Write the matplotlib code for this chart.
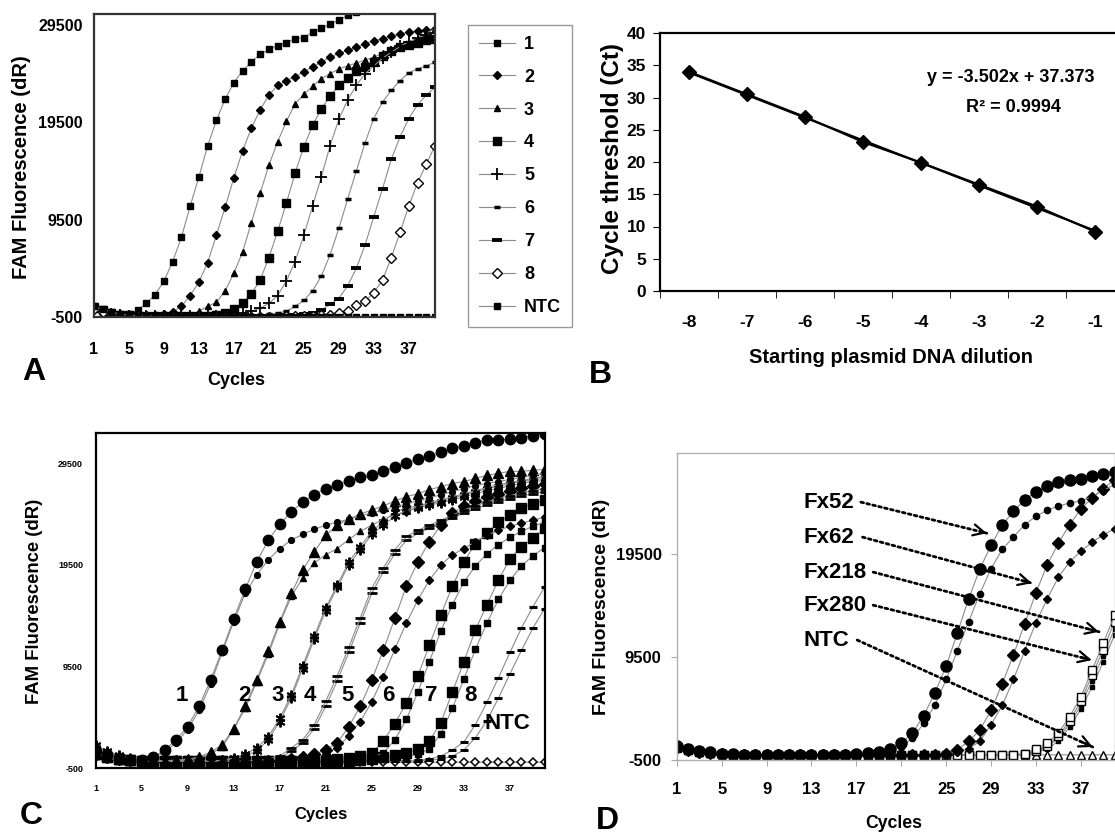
import numpy as np
import matplotlib
matplotlib.use("Agg")
import matplotlib.pyplot as plt

plt.rcParams['font.family'] = ['Liberation Sans', 'DejaVu Sans']
plt.rcParams['font.weight'] = 'bold'
plt.rcParams['axes.unicode_minus'] = False

W, H = 1115, 836
NARROW = ['Liberation Sans Narrow', 'Liberation Sans', 'DejaVu Sans']

cycles = np.arange(1, 41)

# ---- panel A: plasmid dilutions, dR in thousands ----
a_names = ['1', '2', '3', '4', '5', '6', '7', '8', 'NTC']
a_1 = [0.5, 0.2, -0.1, -0.2, -0.2, 0.2, 0.9, 1.8, 3.2, 5.2, 7.7, 10.9, 13.9, 17.1, 19.7, 21.9, 23.6, 24.8, 25.7, 26.5,
       27.0, 27.4, 27.7, 28.1, 28.2, 28.8, 29.2, 29.6, 30.0, 30.5, 30.8, 31.1, 31.4, 31.7, 32.0, 32.3, 32.6, 32.9, 33.2, 33.5]
a_2 = [0.4, 0.1, -0.2, -0.3, -0.3, -0.3, -0.3, -0.3, -0.2, 0.0, 0.6, 1.7, 3.1, 5.1, 7.9, 10.8, 13.8, 16.6, 18.9, 20.8,
       22.3, 23.3, 23.8, 24.2, 24.7, 25.2, 25.7, 26.2, 26.6, 26.9, 27.2, 27.6, 27.9, 28.1, 28.4, 28.6, 28.8, 28.9, 29.0, 29.1]
a_3 = [0.3, 0.0, -0.2, -0.3, -0.3, -0.3, -0.35, -0.35, -0.35, -0.35, -0.3, -0.3, 0.1, 0.6, 1.0, 2.2, 4.0, 6.2, 9.2, 12.2,
       15.1, 17.5, 19.6, 21.4, 22.4, 23.2, 24.0, 24.5, 25.0, 25.3, 25.6, 25.9, 26.2, 26.6, 26.9, 27.3, 27.7, 28.1, 28.7, 29.1]
a_4 = [0.5, 0.2, -0.1, -0.3, -0.3, -0.35, -0.35, -0.4, -0.4, -0.4, -0.4, -0.4, -0.4, -0.35, -0.3, -0.1, 0.3, 0.9, 1.9, 3.3,
       5.6, 8.3, 11.2, 14.3, 17.0, 19.2, 20.9, 22.2, 23.3, 24.1, 24.8, 25.2, 25.7, 26.3, 26.8, 27.2, 27.5, 27.7, 28.0, 28.1]
a_5 = [0.2, 0.0, -0.2, -0.3, -0.35, -0.35, -0.4, -0.4, -0.4, -0.4, -0.4, -0.4, -0.4, -0.4, -0.35, -0.3, -0.2, -0.1, 0.1, 0.4,
       0.9, 1.7, 3.2, 5.2, 7.9, 10.9, 13.9, 17.1, 19.8, 21.8, 23.3, 24.5, 25.3, 26.1, 26.7, 27.3, 27.8, 28.2, 28.5, 28.7]
a_6 = [0.3, 0.0, -0.2, -0.3, -0.35, -0.4, -0.4, -0.4, -0.4, -0.45, -0.45, -0.45, -0.45, -0.45, -0.45, -0.45, -0.4, -0.4, -0.35, -0.3,
       -0.2, -0.1, 0.1, 0.6, 1.2, 2.2, 3.7, 5.9, 8.6, 11.6, 14.5, 17.4, 19.9, 21.6, 22.8, 23.8, 24.6, 25.0, 25.3, 25.7]
a_7 = [0.4, 0.1, -0.1, -0.25, -0.3, -0.35, -0.4, -0.4, -0.45, -0.45, -0.45, -0.45, -0.45, -0.45, -0.45, -0.45, -0.45, -0.45, -0.4, -0.4,
       -0.4, -0.35, -0.3, -0.3, -0.2, -0.1, 0.2, 0.8, 1.4, 2.7, 4.5, 6.9, 9.8, 12.7, 15.7, 18.0, 19.9, 21.3, 22.3, 23.1]
a_8 = [0.3, 0.0, -0.2, -0.3, -0.35, -0.4, -0.4, -0.45, -0.45, -0.45, -0.45, -0.45, -0.45, -0.45, -0.45, -0.45, -0.45, -0.45, -0.45, -0.45,
       -0.45, -0.45, -0.4, -0.4, -0.4, -0.35, -0.3, -0.25, -0.1, 0.15, 0.7, 1.1, 2.0, 3.3, 5.6, 8.2, 10.9, 13.3, 15.2, 17.1]
a_ntc = [0.6, 0.3, 0.0, -0.2, -0.3, -0.35, -0.4, -0.4, -0.45, -0.45, -0.45, -0.45, -0.45, -0.45, -0.45, -0.45, -0.45, -0.45, -0.45, -0.45,
         -0.45, -0.45, -0.45, -0.45, -0.45, -0.45, -0.45, -0.45, -0.45, -0.45, -0.45, -0.45, -0.45, -0.45, -0.45, -0.45, -0.45, -0.45, -0.45, -0.45]

# ---- panel B: standard curve ----
dilution = [-8, -7, -6, -5, -4, -3, -2, -1]
ct_values = [34.0, 30.5, 27.0, 23.1, 19.9, 16.5, 13.1, 9.2]
trend_slope = -3.502
trend_intercept = 37.373
trend_r2 = 0.9994

# ---- panel C: duplicate dilutions, dR in thousands ----
c_1a = [1.2, 0.8, 0.5, 0.3, 0.3, 0.6, 1.3, 2.3, 3.6, 5.6, 8.2, 11.1, 14.2, 17.1, 19.8, 21.9, 23.5, 24.7, 25.7, 26.4,
        27.0, 27.4, 27.75, 28.1, 28.3, 28.7, 29.1, 29.5, 29.9, 30.2, 30.6, 31.0, 31.2, 31.5, 31.8, 31.8, 31.85, 32.0, 32.2, 32.35]
c_1b = [1.0, 0.7, 0.4, 0.3, 0.25, 0.5, 1.1, 2.0, 3.3, 5.2, 7.8, 10.9, 13.9, 16.7, 18.5, 20.0, 21.1, 21.95, 22.5, 23.0,
        23.4, 23.7, 24.0, 24.3, 24.6, 24.9, 25.2, 25.5, 25.8, 26.1, 26.4, 26.7, 27.0, 27.3, 27.5, 27.7, 27.9, 28.1, 28.3, 28.5]
c_2a = [1.1, 0.7, 0.4, 0.3, 0.25, 0.25, 0.25, 0.3, 0.4, 0.6, 1.1, 1.8, 3.4, 5.6, 8.2, 11.0, 13.9, 16.7, 19.0, 20.8,
        22.4, 23.4, 24.0, 24.5, 24.9, 25.3, 25.8, 26.2, 26.5, 26.9, 27.2, 27.5, 27.7, 28.0, 28.3, 28.5, 28.7, 28.7, 28.8, 28.9]
c_2b = [0.9, 0.6, 0.3, 0.25, 0.2, 0.2, 0.2, 0.25, 0.3, 0.5, 0.9, 1.6, 3.3, 5.4, 8.0, 10.7, 13.7, 16.4, 18.2, 19.7,
        20.5, 21.1, 22.0, 22.8, 23.4, 24.0, 24.4, 24.8, 25.2, 25.6, 25.9, 26.2, 26.5, 26.8, 27.1, 27.4, 27.6, 27.8, 28.0, 28.2]
c_3a = [1.8, 1.2, 0.8, 0.5, 0.3, 0.25, 0.2, 0.2, 0.2, 0.2, 0.2, 0.3, 0.5, 0.9, 1.5, 2.6, 4.4, 6.7, 9.6, 12.5,
        15.3, 17.5, 19.8, 21.3, 22.8, 23.75, 24.7, 25.1, 25.3, 25.6, 25.7, 26.05, 26.4, 26.7, 27.0, 27.2, 27.5, 27.7, 27.85, 28.0]
c_3b = [1.5, 1.0, 0.7, 0.4, 0.3, 0.2, 0.2, 0.2, 0.2, 0.2, 0.2, 0.25, 0.4, 0.7, 1.2, 2.3, 4.1, 6.4, 9.3, 12.2,
        15.0, 17.3, 19.5, 21.0, 22.5, 23.4, 24.3, 24.8, 25.1, 25.4, 25.6, 25.9, 26.2, 26.5, 26.8, 27.0, 27.3, 27.5, 27.7, 27.8]
c_4a = [1.0, 0.6, 0.4, 0.3, 0.2, 0.2, 0.2, 0.2, 0.2, 0.2, 0.2, 0.2, 0.2, 0.25, 0.3, 0.4, 0.7, 1.5, 2.3, 3.8,
        6.1, 8.6, 11.4, 14.3, 17.2, 19.2, 21.0, 22.3, 22.9, 23.4, 23.9, 24.4, 24.9, 25.3, 25.7, 26.0, 26.3, 26.6, 26.8, 27.0]
c_4b = [0.8, 0.5, 0.3, 0.2, 0.2, 0.2, 0.2, 0.2, 0.2, 0.2, 0.2, 0.2, 0.2, 0.2, 0.25, 0.3, 0.5, 1.2, 2.0, 3.4,
        5.6, 8.1, 10.9, 13.8, 16.7, 18.8, 20.6, 21.9, 22.6, 23.1, 23.6, 24.1, 24.6, 25.0, 25.4, 25.7, 26.0, 26.3, 26.5, 26.7]
c_5a = [1.0, 0.6, 0.4, 0.3, 0.25, 0.2, 0.2, 0.2, 0.2, 0.2, 0.2, 0.2, 0.2, 0.2, 0.2, 0.25, 0.3, 0.4, 0.6, 0.9,
        1.3, 2.0, 3.6, 5.6, 8.2, 11.1, 14.25, 17.4, 19.8, 21.8, 23.4, 24.6, 25.3, 25.8, 26.2, 26.5, 26.8, 27.1, 27.3, 27.5]
c_5b = [0.8, 0.5, 0.3, 0.2, 0.2, 0.2, 0.2, 0.2, 0.2, 0.2, 0.2, 0.2, 0.2, 0.2, 0.2, 0.2, 0.25, 0.3, 0.45, 0.6,
        0.9, 1.5, 2.7, 4.1, 6.05, 8.5, 11.2, 13.8, 16.05, 18.0, 19.5, 20.5, 21.1, 21.8, 22.4, 22.9, 23.3, 23.6, 23.9, 24.2]
c_6a = [0.9, 0.6, 0.4, 0.3, 0.2, 0.2, 0.2, 0.2, 0.2, 0.2, 0.2, 0.2, 0.2, 0.2, 0.2, 0.2, 0.2, 0.2, 0.2, 0.25,
        0.3, 0.4, 0.5, 0.7, 1.0, 2.2, 3.9, 5.9, 8.6, 11.6, 14.6, 17.4, 19.8, 21.6, 22.6, 23.7, 24.4, 25.1, 25.5, 25.9]
c_6b = [0.7, 0.5, 0.3, 0.2, 0.2, 0.2, 0.2, 0.2, 0.2, 0.2, 0.2, 0.2, 0.2, 0.2, 0.2, 0.2, 0.2, 0.2, 0.2, 0.2,
        0.25, 0.3, 0.35, 0.45, 0.6, 1.0, 2.3, 4.3, 7.0, 10.0, 13.0, 15.6, 17.8, 19.4, 20.6, 21.5, 22.2, 22.8, 23.3, 23.7]
c_7a = [0.9, 0.6, 0.4, 0.3, 0.2, 0.2, 0.2, 0.2, 0.2, 0.2, 0.2, 0.2, 0.2, 0.2, 0.2, 0.2, 0.2, 0.2, 0.2, 0.2,
        0.2, 0.2, 0.25, 0.3, 0.4, 0.6, 0.8, 1.0, 1.4, 2.2, 4.0, 7.0, 10.0, 13.1, 15.6, 18.0, 20.1, 21.3, 22.1, 23.1]
c_7b = [0.7, 0.5, 0.3, 0.2, 0.2, 0.2, 0.2, 0.2, 0.2, 0.2, 0.2, 0.2, 0.2, 0.2, 0.2, 0.2, 0.2, 0.2, 0.2, 0.2,
        0.2, 0.2, 0.2, 0.25, 0.3, 0.4, 0.5, 0.6, 0.9, 1.4, 2.9, 5.4, 8.3, 11.2, 13.8, 16.1, 18.0, 19.4, 20.4, 21.2]
c_8a = [0.8, 0.5, 0.3, 0.2, 0.2, 0.2, 0.2, 0.2, 0.2, 0.2, 0.2, 0.2, 0.2, 0.2, 0.2, 0.2, 0.2, 0.2, 0.2, 0.2,
        0.2, 0.2, 0.2, 0.2, 0.2, 0.2, 0.2, 0.25, 0.3, 0.4, 0.7, 1.3, 2.1, 3.8, 6.0, 8.4, 10.9, 13.3, 15.4, 17.3]
c_8b = [0.6, 0.4, 0.3, 0.2, 0.2, 0.2, 0.2, 0.2, 0.2, 0.2, 0.2, 0.2, 0.2, 0.2, 0.2, 0.2, 0.2, 0.2, 0.2, 0.2,
        0.2, 0.2, 0.2, 0.2, 0.2, 0.2, 0.2, 0.2, 0.25, 0.3, 0.4, 0.7, 1.3, 2.5, 4.2, 6.4, 8.8, 11.1, 13.3, 15.2]
c_ntc = [0.6, 0.4, 0.3, 0.2, 0.2, 0.15, 0.15, 0.15, 0.1, 0.1, 0.1, 0.1, 0.1, 0.1, 0.1, 0.1, 0.1, 0.1, 0.1, 0.1,
         0.1, 0.1, 0.1, 0.1, 0.1, 0.1, 0.1, 0.1, 0.1, 0.1, 0.1, 0.1, 0.1, 0.1, 0.1, 0.1, 0.1, 0.1, 0.1, 0.1]
c_labels = ['1', '2', '3', '4', '5', '6', '7', '8', 'NTC']
c_label_x = [8.5, 13.95, 16.8, 19.6, 22.9, 26.4, 30.2, 33.55, 36.8]
c_label_y = [6700, 6700, 6700, 6700, 6700, 6700, 6700, 6700, 3900]

# ---- panel D: field samples, dR in thousands ----
d_fx52a = [0.9, 0.6, 0.4, 0.3, 0.1, 0.1, 0.0, 0.0, 0.0, 0.0, 0.0, 0.0, 0.0, 0.0, 0.0, 0.0, 0.1, 0.2, 0.3, 0.6,
           1.1, 2.1, 3.8, 6.0, 8.6, 11.8, 15.1, 18.0, 20.3, 22.25, 23.6, 24.7, 25.5, 26.0, 26.4, 26.6, 26.7, 27.0, 27.25, 27.4]
d_fx52b = [0.7, 0.5, 0.3, 0.2, 0.1, 0.0, 0.0, 0.0, 0.0, 0.0, 0.0, 0.0, 0.0, 0.0, 0.0, 0.0, 0.0, 0.1, 0.2, 0.4,
           0.8, 1.6, 3.05, 4.8, 7.3, 10.1, 12.9, 15.6, 18.05, 19.9, 21.1, 22.3, 23.1, 23.7, 24.1, 24.4, 24.6, 25.0, 25.6, 26.2]
d_fx62a = [0.8, 0.5, 0.3, 0.2, 0.1, 0.0, 0.0, 0.0, 0.0, 0.0, 0.0, 0.0, 0.0, 0.0, 0.0, 0.0, 0.0, 0.0, 0.0, 0.0,
           0.0, 0.0, 0.0, 0.0, 0.1, 0.5, 1.3, 2.4, 4.3, 6.9, 9.7, 12.7, 15.7, 18.4, 20.5, 22.3, 23.8, 24.9, 25.8, 26.6]
d_fx62b = [0.6, 0.4, 0.3, 0.2, 0.1, 0.0, 0.0, 0.0, 0.0, 0.0, 0.0, 0.0, 0.0, 0.0, 0.0, 0.0, 0.0, 0.0, 0.0, 0.0,
           0.0, 0.0, 0.0, 0.0, 0.0, 0.3, 0.6, 1.3, 2.9, 4.8, 7.3, 10.1, 12.8, 15.1, 17.2, 18.7, 19.7, 20.6, 21.3, 21.9]
d_fx218a = [0.8, 0.6, 0.4, 0.2, 0.1, 0.0, 0.0, 0.0, 0.0, 0.0, 0.0, 0.0, 0.0, 0.0, 0.0, 0.0, 0.0, 0.0, 0.0, 0.0,
            0.0, 0.0, 0.0, 0.0, 0.0, 0.0, 0.0, 0.0, 0.0, 0.0, 0.0, 0.1, 0.6, 1.1, 2.1, 3.7, 5.6, 8.2, 10.8, 13.5]
d_fx218b = [0.7, 0.5, 0.3, 0.2, 0.1, 0.0, 0.0, 0.0, 0.0, 0.0, 0.0, 0.0, 0.0, 0.0, 0.0, 0.0, 0.0, 0.0, 0.0, 0.0,
            0.0, 0.0, 0.0, 0.0, 0.0, 0.0, 0.0, 0.0, 0.0, 0.0, 0.0, 0.1, 0.4, 0.9, 1.8, 3.3, 5.2, 7.7, 10.2, 12.9]
d_fx280a = [0.9, 0.6, 0.4, 0.3, 0.1, 0.0, 0.0, 0.0, 0.0, 0.0, 0.0, 0.0, 0.0, 0.0, 0.0, 0.0, 0.0, 0.0, 0.0, 0.0,
            0.0, 0.0, 0.0, 0.0, 0.0, 0.0, 0.0, 0.0, 0.0, 0.0, 0.0, 0.0, 0.3, 0.8, 1.6, 3.0, 4.8, 7.2, 9.6, 12.2]
d_fx280b = [0.7, 0.5, 0.3, 0.2, 0.1, 0.0, 0.0, 0.0, 0.0, 0.0, 0.0, 0.0, 0.0, 0.0, 0.0, 0.0, 0.0, 0.0, 0.0, 0.0,
            0.0, 0.0, 0.0, 0.0, 0.0, 0.0, 0.0, 0.0, 0.0, 0.0, 0.0, 0.0, 0.2, 0.6, 1.3, 2.7, 4.4, 6.6, 9.0, 11.6]
d_ntc = [0.8, 0.5, 0.3, 0.2, 0.1, 0.0, 0.0, 0.0, 0.0, 0.0, 0.0, 0.0, 0.0, 0.0, 0.0, 0.0, 0.0, 0.0, 0.0, 0.0,
         0.0, 0.0, 0.0, 0.0, 0.0, 0.0, 0.0, 0.0, 0.0, 0.0, 0.0, 0.0, 0.0, 0.0, 0.0, 0.0, 0.0, 0.0, 0.0, 0.0]
d_names = ['Fx52', 'Fx62', 'Fx218', 'Fx280', 'NTC']
d_name_y = [24480, 21090, 17700, 14500, 11120]
d_arrow_from = [(17.4, 24480), (17.55, 21090), (18.5, 17700), (18.5, 14500), (17.07, 11120)]
d_arrow_to = [(28.62, 21470), (32.63, 16630), (38.62, 11920), (37.97, 9180), (38.06, 760)]

GRAY = '#8c8c8c'


def px_axes(fig, left, top, right, bottom):
    return fig.add_axes([left / W, 1 - bottom / H, (right - left) / W, (bottom - top) / H])


def px_text(fig, x, y, s, **kw):
    fig.text(x / W, 1 - y / H, s, ha='center', va='center', **kw)


def curve(ax, values, marker, ms, mfc='black', mew=1.0, label=None):
    return ax.plot(cycles, np.array(values) * 1000, color=GRAY, lw=0.8, marker=marker, ms=ms,
                   mfc=mfc, mec='black', mew=mew, label=label)[0]


def cycle_axis(ax, ymax, yticks):
    ax.set_xlim(1, 40)
    ax.set_ylim(-500, ymax)
    ax.set_xticks(range(1, 40, 4))
    ax.set_yticks(yticks)


def plot_a(fig):
    ax = px_axes(fig, 94, 14, 435, 317)
    styles = [('s', 4.2, 'black', 1.0), ('D', 4.2, 'black', 1.0), ('^', 5.0, 'black', 1.0),
              ('s', 6.3, 'black', 1.0), ('+', 8.0, 'black', 1.3), ('_', 4.5, 'black', 2.5),
              ('_', 7.5, 'black', 2.8), ('D', 5.5, 'white', 1.0), ('s', 5.0, 'black', 1.0)]
    series = [a_1, a_2, a_3, a_4, a_5, a_6, a_7, a_8, a_ntc]
    handles = []
    for name, vals, (m, ms, fc, mew) in zip(a_names, series, styles):
        handles.append(curve(ax, vals, m, ms, fc, mew, label=name))
    cycle_axis(ax, 30640, [-500, 9500, 19500, 29500])
    ax.tick_params(axis='both', length=0, labelsize=11.5)
    ax.tick_params(axis='x', pad=18)
    ax.tick_params(axis='y', pad=8)
    for sp in ax.spines.values():
        sp.set_linewidth(1.6)
        sp.set_color('#333333')
    fig.legend(handles, a_names, loc='upper left', bbox_to_anchor=(468 / W, 1 - 25 / H),
               borderaxespad=0, prop={'size': 13, 'weight': 'bold'}, handlelength=2.0,
               handletextpad=0.5, labelspacing=0.88, borderpad=0.6, fancybox=False,
               edgecolor='#9a9a9a', framealpha=1)
    px_text(fig, 22, 167, 'FAM Fluorescence (dR)', rotation=90, fontsize=14.5)
    px_text(fig, 236, 380, 'Cycles', fontsize=13)
    px_text(fig, 34, 372, 'A', fontsize=23)


def plot_b(fig):
    ax = px_axes(fig, 660, 33, 1124, 291)
    idx = np.arange(1, len(dilution) + 1)
    trend = trend_slope * idx + trend_intercept
    ax.plot(dilution, trend, color='black', lw=1.5)
    ax.plot(dilution, ct_values, color='black', lw=1.5, marker='D', ms=7)
    ax.set_xlim(-8.5, -0.5)
    ax.set_ylim(0, 40)
    ax.set_yticks(range(0, 41, 5))
    ax.set_xticks(dilution)
    ax.set_xticks(np.arange(-8.5, 0, 1), minor=True)
    ax.tick_params(axis='x', which='major', length=0, pad=17)
    ax.tick_params(axis='x', which='minor', length=5, direction='out')
    ax.tick_params(axis='y', length=5, direction='out', pad=5)
    for lab in ax.get_xticklabels() + ax.get_yticklabels():
        lab.set_fontfamily(NARROW)
        lab.set_fontsize(12.5)
    for sp in ax.spines.values():
        sp.set_linewidth(1.6)
    px_text(fig, 1011, 77, 'y = -3.502x + 37.373', fontsize=13, family=NARROW)
    px_text(fig, 1013, 107, 'R² = ' + str(trend_r2), fontsize=13, family=NARROW)
    px_text(fig, 612, 158, 'Cycle threshold (Ct)', rotation=90, fontsize=17.5, family=NARROW)
    px_text(fig, 891, 358, 'Starting plasmid DNA dilution', fontsize=14.5, family=NARROW)
    px_text(fig, 600, 375, 'B', fontsize=23)


def plot_c(fig):
    ax = px_axes(fig, 95.5, 433.3, 544.5, 768.3)
    ast = (6, 2, 0)
    curve(ax, c_ntc, 'D', 4.2, 'white', 1.1)
    curve(ax, c_8b, '_', 6, 'black', 2.2)
    curve(ax, c_8a, '_', 6, 'black', 2.2)
    curve(ax, c_7b, 's', 4.0)
    curve(ax, c_7a, 's', 7.5)
    curve(ax, c_6b, 's', 4.0)
    curve(ax, c_6a, 's', 7.0)
    curve(ax, c_5b, 'D', 3.8)
    curve(ax, c_5a, 'D', 6.2)
    curve(ax, c_4b, '_', 7, 'black', 2.0)
    curve(ax, c_4a, '_', 7, 'black', 2.0)
    curve(ax, c_3b, ast, 7, 'black', 1.4)
    curve(ax, c_3a, ast, 7, 'black', 1.4)
    curve(ax, c_2b, '^', 4.5)
    curve(ax, c_2a, '^', 7.5)
    curve(ax, c_1b, 'o', 4.2)
    curve(ax, c_1a, 'o', 7.5)
    cycle_axis(ax, 32440, [-500, 9500, 19500, 29500])
    ax.tick_params(axis='both', length=0, labelsize=6.5)
    ax.tick_params(axis='x', pad=11)
    ax.tick_params(axis='y', pad=9)
    for sp in ax.spines.values():
        sp.set_linewidth(1.6)
    for s, x, y in zip(c_labels, c_label_x, c_label_y):
        ax.text(x, y, s, fontsize=16, ha='center', va='center')
    px_text(fig, 35, 601, 'FAM Fluorescence (dR)', rotation=90, fontsize=13.3)
    px_text(fig, 321, 815, 'Cycles', fontsize=12)
    px_text(fig, 31, 816, 'C', fontsize=23)


def plot_d(fig):
    ax = px_axes(fig, 676.8, 453.3, 1114.5, 760)
    curve(ax, d_ntc, '^', 5.5, 'white', 1.0)
    curve(ax, d_fx280b, 's', 3.5)
    curve(ax, d_fx280a, 's', 3.5)
    curve(ax, d_fx218b, 's', 6.0, 'white', 1.0)
    curve(ax, d_fx218a, 's', 6.0, 'white', 1.0)
    curve(ax, d_fx62b, 'D', 4.0)
    curve(ax, d_fx62a, 'D', 6.5)
    curve(ax, d_fx52b, 'o', 4.5)
    curve(ax, d_fx52a, 'o', 8.0)
    cycle_axis(ax, 29210, [-500, 9500, 19500])
    ax.tick_params(axis='both', length=4, color='#aaaaaa', labelsize=12)
    ax.tick_params(axis='x', pad=12)
    ax.tick_params(axis='y', pad=7)
    for sp in ax.spines.values():
        sp.set_linewidth(1.0)
        sp.set_color('#b0b0b0')
    for name, y in zip(d_names, d_name_y):
        ax.text(12.33, y, name, fontsize=16, ha='left', va='center')
    for start, end in zip(d_arrow_from, d_arrow_to):
        ax.annotate('', xy=end, xytext=start,
                    arrowprops=dict(arrowstyle='-', lw=2, linestyle=(0, (1, 1.2)),
                                    color='black', shrinkA=0, shrinkB=0))
        back = (end[0] - 0.05 * (end[0] - start[0]), end[1] - 0.05 * (end[1] - start[1]))
        ax.annotate('', xy=end, xytext=back,
                    arrowprops=dict(arrowstyle='->', lw=1.6, color='black',
                                    mutation_scale=20, shrinkA=0, shrinkB=0))
    px_text(fig, 602, 607, 'FAM Fluorescence (dR)', rotation=90, fontsize=14)
    px_text(fig, 894, 823, 'Cycles', fontsize=12.7)
    px_text(fig, 607, 821, 'D', fontsize=23)


if __name__ == '__main__':
    fig = plt.figure(figsize=(W / 100, H / 100), dpi=100)
    plot_a(fig)
    plot_b(fig)
    plot_c(fig)
    plot_d(fig)
    fig.savefig('out.png', dpi=100)
